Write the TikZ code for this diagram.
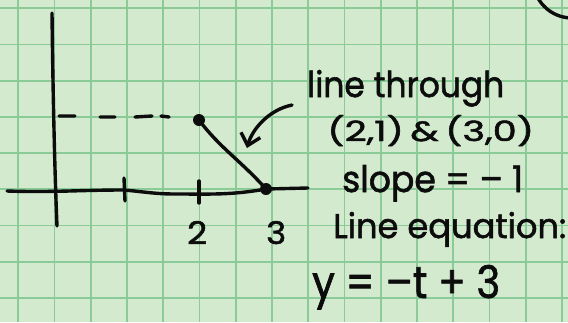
\documentclass[tikz,border=0pt]{standalone}
\usepackage{fontspec}
\setmainfont{Poppins}
\newfontfamily\handfont{Poppins}[FakeBold=1.6]
\usetikzlibrary{arrows.meta}
\definecolor{paper}{RGB}{211,234,207}
\definecolor{gridgreen}{RGB}{138,203,152}
\definecolor{ink}{RGB}{12,12,12}
\newcommand{\hw}[3]{\resizebox{#1}{#2}{\handfont\fontsize{30}{30}\selectfont #3}}
\begin{document}
\begin{tikzpicture}[x=1pt,y=-1pt,
  inkline/.style={draw=ink, line width=3.4pt, line cap=round, line join=round},
  gridline/.style={draw=gridgreen, line width=1.8pt},
  lbl/.style={inner sep=0pt, anchor=base west, text=ink},
  dotmark/.style={circle, fill=ink, minimum size=12pt, inner sep=0pt}]
\useasboundingbox (0,0) rectangle (568,322);
\begin{scope}
\clip (0,0) rectangle (568,322);
\fill[paper] (0,0) rectangle (568,322);
\foreach \i in {0,...,15} \draw[gridline] ({18.3+36.25*\i},0) -- ++(0,322);
\foreach \j in {0,...,8} \draw[gridline] (0,{8.3+36.2*\j}) -- ++(568,0);
% partial circle in the top right corner
\coordinate (cc) at (572,-21);
\draw[inkline] (cc) circle (39);
\end{scope}
% axes
\coordinate (yt) at (52,13);
\coordinate (yb) at (57,226);
\draw[inkline] (yt) .. controls (53,100) and (55,180) .. (yb);
\node[dotmark] (p21) at (199,120) {};
\node[dotmark] (p30) at (266,189) {};
\coordinate (xl) at (7,191);
\coordinate (xr) at (308,188);
\coordinate (xa) at (124,190);
\coordinate (xb) at (175,194);
\draw[inkline] (xl) to[out=-2,in=180] (xa) to[out=-5,in=180] (xb) to[out=0,in=190] (p30.center) -- (xr);
% ticks
\coordinate (t1a) at (124,178); \coordinate (t1b) at (125,201);
\coordinate (t2a) at (199,181); \coordinate (t2b) at (199,203);
\draw[inkline] (t1a) -- (t1b);
\draw[inkline] (t2a) -- (t2b);
% dashed level line
\coordinate (d1a) at (59,116); \coordinate (d1b) at (75,116);
\coordinate (d2a) at (100,117); \coordinate (d2b) at (115,117);
\coordinate (d3a) at (135,117); \coordinate (d3b) at (152,116);
\coordinate (d4a) at (161,116); \coordinate (d4b) at (169,117);
\draw[inkline] (d1a) -- (d1b) (d2a) -- (d2b) (d3a) -- (d3b) (d4a) -- (d4b);
% the line segment
\draw[inkline] (p21.center) .. controls (220,148) and (240,160) .. (p30.center);
% arrow
\coordinate (as) at (292,105);
\coordinate (at) at (247,148);
\draw[inkline, -{Straight Barb[length=11pt,width=20pt]}] (as) .. controls (268,110) and (252,130) .. (at);
% labels
\node[lbl] (n2) at (187,244) {\hw{20pt}{23pt}{2}};
\node[lbl] (n3) at (266,244) {\hw{20pt}{23pt}{3}};
\node[lbl] (t1) at (307,97) {\hw{197pt}{27pt}{line through}};
\node[lbl] (t2) at (327,141) {\hw{207pt}{26pt}{(2,1)\,\&\,(3,0)}};
\node[lbl] (t3) at (342,192) {\hw{181pt}{27pt}{slope = – 1}};
\node[lbl] (t4) at (333,238) {\hw{233pt}{26pt}{Line equation:}};
\node[lbl] (t5) at (312,298) {\hw{188pt}{33pt}{y = –t + 3}};
\end{tikzpicture}
\end{document}
